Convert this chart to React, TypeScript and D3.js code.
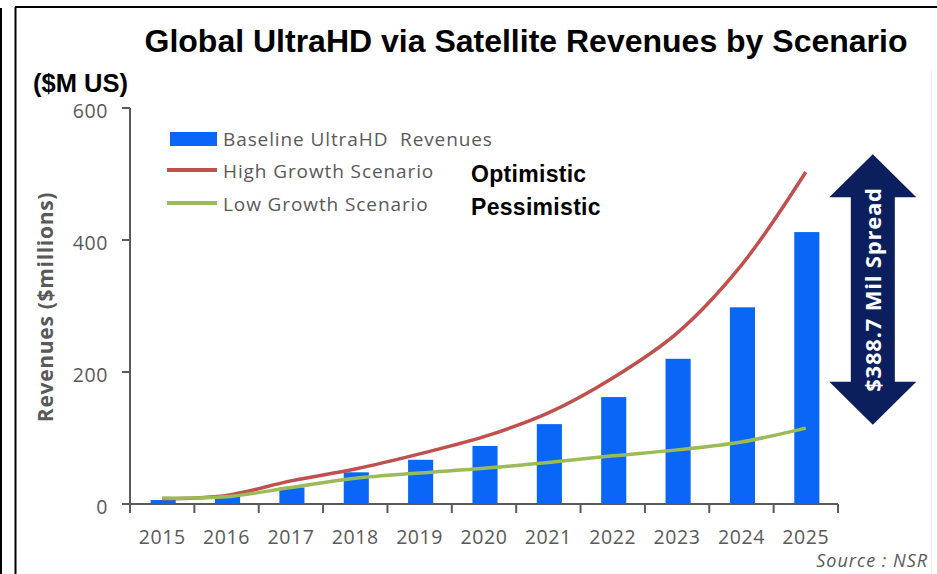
import React from "react";
import * as d3 from "d3";

const years = ["2015", "2016", "2017", "2018", "2019", "2020", "2021", "2022", "2023", "2024", "2025"];
const baseline = [6, 11, 25, 48, 67, 88, 121, 162, 220, 298, 412];
const highGrowth = [8, 13, 35, 53, 76, 102, 138, 191, 259, 362, 503];
const lowGrowth = [9, 11, 25, 39, 47, 54, 63, 73, 82, 94, 115];
const yTicks = [0, 200, 400, 600];
const legendLabels = ["Baseline UltraHD  Revenues", "High Growth Scenario", "Low Growth Scenario"];
const scenarioLabels = ["Optimistic", "Pessimistic"];
const title = "Global UltraHD via Satellite Revenues by Scenario";
const unitLabel = "($M US)";
const yAxisTitle = "Revenues ($millions)";
const spreadLabel = "$388.7 Mil Spread";
const sourceLabel = "Source : NSR";
const arrowRange = [530, 120];

const W = 937;
const H = 574;
const BLUE = "#0a66f7";
const RED = "#c0504d";
const GREEN = "#9bbb59";
const NAVY = "#0b1f5e";
const GRAY = "#595959";
const AXIS = "#5a5a5a";
const SANS = "'Open Sans', 'DejaVu Sans', sans-serif";
const ARIAL = "'Liberation Sans', Arial, sans-serif";

export default function App() {
  const x = d3.scaleBand<string>().domain(years).range([130, 838]).paddingInner(0).paddingOuter(0);
  const y = d3.scaleLinear().domain([0, 600]).range([504, 108]);
  const bw = x.bandwidth();
  const barW = bw * 0.39;
  const cx = (yr: string) => (x(yr) as number) + bw / 2;

  const line = d3
    .line<number>()
    .x((_, i) => cx(years[i]))
    .y((d) => y(d))
    .curve(d3.curveCatmullRom.alpha(0.5));

  const xTickPos = years.map((yr) => x(yr) as number).concat([838]);

  // arrow geometry from scale values
  const ax = cx(years[years.length - 1]) + 67;
  const topTip = y(arrowRange[0]);
  const botTip = y(arrowRange[1]);
  const headH = 43;
  const headHalf = 43.5;
  const shaftHalf = 22;
  const arrowPts = [
    [ax, topTip],
    [ax + headHalf, topTip + headH],
    [ax + shaftHalf, topTip + headH],
    [ax + shaftHalf, botTip - headH],
    [ax + headHalf, botTip - headH],
    [ax, botTip],
    [ax - headHalf, botTip - headH],
    [ax - shaftHalf, botTip - headH],
    [ax - shaftHalf, topTip + headH],
    [ax - headHalf, topTip + headH],
  ];

  return (
    <svg
      width={W}
      height={H}
      viewBox={`0 0 ${W} ${H}`}
      style={{ position: "absolute", left: 0, top: 0, background: "#fff" }}
    >
      {/* frame lines */}
      <line x1={1} y1={8} x2={1} y2={H} stroke="#000" strokeWidth={2} />
      <line x1={15.5} y1={7} x2={15.5} y2={H} stroke="#000" strokeWidth={2} />
      <line x1={15} y1={7} x2={W} y2={7} stroke="#000" strokeWidth={2} />
      <line x1={931.5} y1={70} x2={931.5} y2={H} stroke="#ececec" strokeWidth={1} />

      {/* title */}
      <text x={526} y={52} textAnchor="middle" fontFamily={ARIAL} fontWeight="bold" fontSize={32} fill="#000">
        {title}
      </text>
      <text x={33} y={92} fontFamily={ARIAL} fontWeight="bold" fontSize={25.5} fill="#000">
        {unitLabel}
      </text>

      {/* bars */}
      {years.map((yr, i) => (
        <rect
          key={yr}
          x={cx(yr) - barW / 2 + 1}
          y={y(baseline[i])}
          width={barW}
          height={y(0) - y(baseline[i])}
          fill={BLUE}
        />
      ))}

      {/* axes */}
      <line x1={130} y1={y(600)} x2={130} y2={y(0) + 9} stroke={AXIS} strokeWidth={2} />
      <line x1={122} y1={y(0)} x2={838} y2={y(0)} stroke={AXIS} strokeWidth={2} />
      {yTicks.map((t) => (
        <g key={t}>
          <line x1={122} y1={y(t)} x2={130} y2={y(t)} stroke={AXIS} strokeWidth={2} />
          <text
            x={108}
            y={y(t) + 10}
            textAnchor="end"
            fontFamily={SANS}
            fontSize={19.5}
            letterSpacing={0.6}
            fill={GRAY}
          >
            {t}
          </text>
        </g>
      ))}
      {xTickPos.map((p, i) => (
        <line key={i} x1={p} y1={y(0)} x2={p} y2={y(0) + 9} stroke={AXIS} strokeWidth={2} />
      ))}
      {years.map((yr) => (
        <text
          key={yr}
          x={cx(yr)}
          y={544}
          textAnchor="middle"
          fontFamily={SANS}
          fontSize={19.5}
          letterSpacing={0.6}
          fill={GRAY}
        >
          {yr}
        </text>
      ))}

      {/* lines */}
      <path d={line(highGrowth) || ""} fill="none" stroke={RED} strokeWidth={3.5} />
      <path d={line(lowGrowth) || ""} fill="none" stroke={GREEN} strokeWidth={3.5} />

      {/* axis title */}
      <text
        transform={`translate(53,307) rotate(-90)`}
        textAnchor="middle"
        fontFamily={SANS}
        fontWeight="bold"
        fontSize={21}
        letterSpacing={0.7}
        fill={GRAY}
      >
        {yAxisTitle}
      </text>

      {/* legend */}
      <rect x={170} y={132} width={47} height={14} fill={BLUE} />
      <line x1={167} y1={170} x2={217} y2={170} stroke={RED} strokeWidth={4} />
      <line x1={167} y1={203} x2={217} y2={203} stroke={GREEN} strokeWidth={4} />
      {legendLabels.map((l, i) => (
        <text
          key={l}
          x={223}
          y={[146, 178, 211][i]}
          fontFamily={SANS}
          fontSize={19}
          letterSpacing={0.9}
          fill={GRAY}
          style={{ whiteSpace: "pre" }}
        >
          {l}
        </text>
      ))}
      {scenarioLabels.map((l, i) => (
        <text
          key={l}
          x={471}
          y={[182, 215][i]}
          fontFamily={ARIAL}
          fontWeight="bold"
          fontSize={23}
          letterSpacing={0.3}
          fill="#000"
        >
          {l}
        </text>
      ))}

      {/* spread arrow */}
      <polygon points={arrowPts.map((p) => p.join(",")).join(" ")} fill={NAVY} />
      <text
        transform={`translate(${ax + 8},${(topTip + botTip) / 2}) rotate(-90)`}
        textAnchor="middle"
        fontFamily={SANS}
        fontWeight="bold"
        fontSize={22}
        letterSpacing={0.8}
        fill="#fff"
      >
        {spreadLabel}
      </text>

      {/* source */}
      <text
        x={928}
        y={567}
        textAnchor="end"
        fontFamily={SANS}
        fontStyle="italic"
        fontSize={18}
        letterSpacing={1}
        fill={GRAY}
      >
        {sourceLabel}
      </text>
    </svg>
  );
}
